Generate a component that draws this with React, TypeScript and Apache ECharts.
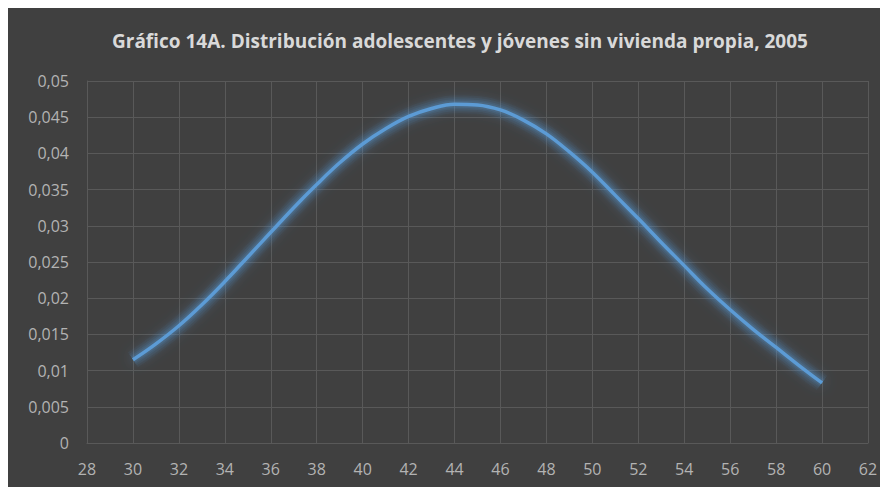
import React, { useEffect, useRef } from "react";
import * as echarts from "echarts";

const titleText = "Gráfico 14A. Distribución adolescentes y jóvenes sin vivienda propia, 2005";
const ages = [30, 31, 32, 33, 34, 35, 36, 37, 38, 39, 40, 41, 42, 43, 44, 45, 46, 47, 48, 49, 50, 51, 52, 53, 54, 55, 56, 57, 58, 59, 60];
const density = [
  0.0115, 0.0137, 0.0162, 0.0191, 0.0223, 0.0257, 0.0291, 0.0325, 0.0357, 0.0387,
  0.0413, 0.0434, 0.0451, 0.0462, 0.0468, 0.0467, 0.046, 0.0446, 0.0427, 0.0402,
  0.0374, 0.0342, 0.031, 0.0277, 0.0245, 0.0213, 0.0184, 0.0157, 0.0132, 0.0107,
  0.0083,
];

export default function App() {
  const ref = useRef<HTMLDivElement>(null);
  useEffect(() => {
    document.documentElement.style.overflow = "hidden";
    document.body.style.overflow = "hidden";
    const chart = echarts.init(ref.current!, undefined, { renderer: "svg" });
    const labelFont = "'Open Sans', sans-serif";
    const points = ages.map((a, i) => [a, density[i]]);
    const glow = (width: number, alpha: number, z: number) => ({
      type: "line",
      data: points,
      smooth: 0.4,
      showSymbol: false,
      silent: true,
      lineStyle: { color: `rgba(91,155,213,${alpha})`, width },
      z,
    });
    chart.setOption({
      animation: false,
      backgroundColor: "#404040",
      title: {
        text: titleText,
        left: 99,
        top: 18,
        textStyle: {
          color: "#d9d9d9",
          fontSize: 19,
          fontWeight: "bold",
          fontFamily: "'Open Sans', sans-serif",
        },
      },
      grid: { left: 79, right: 20, top: 73, bottom: 44 },
      xAxis: {
        type: "value",
        min: 28,
        max: 62,
        interval: 2,
        axisLine: { show: true, lineStyle: { color: "#595959" } },
        axisTick: { show: false },
        splitLine: { show: true, lineStyle: { color: "#595959", width: 1 } },
        axisLabel: { color: "#b3b3b3", fontSize: 16, fontFamily: labelFont, margin: 18 },
      },
      yAxis: {
        type: "value",
        min: 0,
        max: 0.05,
        interval: 0.005,
        axisLine: { show: true, lineStyle: { color: "#595959" } },
        axisTick: { show: false },
        splitLine: { show: true, lineStyle: { color: "#595959", width: 1 } },
        axisLabel: {
          color: "#b3b3b3",
          fontSize: 16,
          fontFamily: labelFont,
          margin: 18,
          formatter: (v: number) => String(+v.toFixed(3)).replace(".", ","),
        },
      },
      series: [
        glow(18, 0.06, 1),
        glow(14, 0.08, 2),
        glow(10, 0.1, 3),
        glow(7, 0.14, 4),
        {
          type: "line",
          data: points,
          smooth: 0.4,
          showSymbol: false,
          lineStyle: {
            color: "#5b9bd5",
            width: 3.5,
            shadowBlur: 14,
            shadowColor: "rgba(91,155,213,0.9)",
          },
          z: 5,
        },
      ],
    });
    return () => chart.dispose();
  }, []);
  return <div ref={ref} style={{ width: 880, height: 479 }} />;
}
